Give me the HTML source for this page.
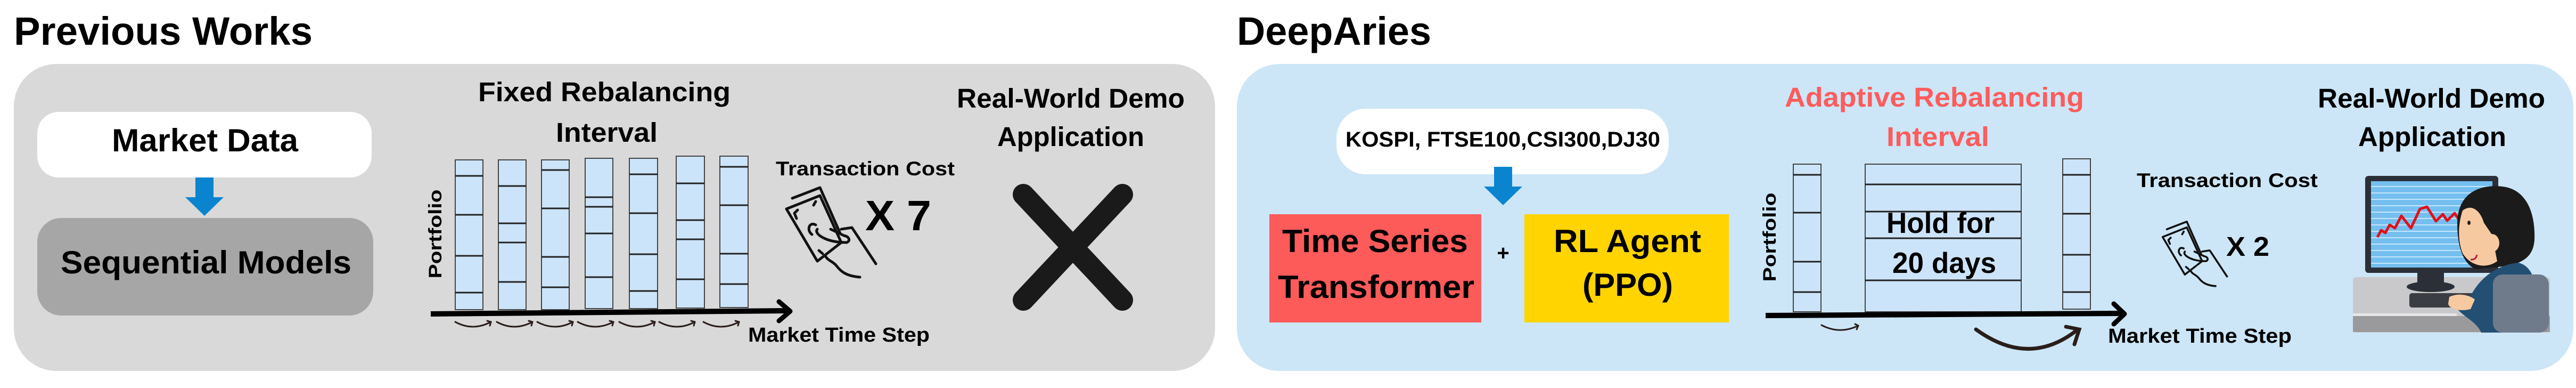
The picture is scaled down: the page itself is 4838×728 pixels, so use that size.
<!DOCTYPE html>
<html><head><meta charset="utf-8"><style>
html,body{margin:0;padding:0;background:#fff;}
svg{display:block;}
text{font-family:"Liberation Sans",Arial,sans-serif;font-weight:bold;}
</style></head><body>
<svg width="4838" height="728" viewBox="0 0 4838 728" xmlns="http://www.w3.org/2000/svg">
<defs>
<g id="money" fill="none" stroke="#111" stroke-width="5" stroke-linecap="round" stroke-linejoin="round">
  <path d="M48,42 L100,22 L138,108"/>
  <path d="M37,62 L100,37 L140,125 L95,160 Z"/>
  <path d="M52,70 L58,64 M52,70 L56,80"/>
  <path d="M92,48 L88,55"/>
  <path d="M98,140 L105,146"/>
  <path d="M92,92 C80,85 74,102 85,110"/>
  <path d="M95,100 C88,108 110,125 150,125 C158,122 155,114 145,112 L120,100"/>
  <path d="M140,100 L160,97 L205,165"/>
  <path d="M110,150 C115,160 125,160 132,170 C140,180 150,188 175,190"/>
</g>
</defs>

<!-- LEFT PANEL -->
<text x="26" y="84" font-size="74" textLength="561" lengthAdjust="spacingAndGlyphs">Previous Works</text>
<rect x="26" y="120" width="2256" height="576" rx="80" fill="#d9d9d9"/>

<rect x="70" y="210" width="628" height="123" rx="40" fill="#fff"/>
<text x="210" y="284" font-size="60" textLength="350" lengthAdjust="spacingAndGlyphs">Market Data</text>
<rect x="367" y="333" width="34" height="38" fill="#0b84d0"/>
<polygon points="348,370 420,370 384,405" fill="#0b84d0"/>
<rect x="70" y="409" width="631" height="183" rx="45" fill="#a6a6a6"/>
<text x="114" y="513" font-size="60" textLength="546" lengthAdjust="spacingAndGlyphs">Sequential Models</text>

<text x="898" y="190" font-size="51" textLength="474" lengthAdjust="spacingAndGlyphs">Fixed Rebalancing</text>
<text x="1044" y="266" font-size="51" textLength="191" lengthAdjust="spacingAndGlyphs">Interval</text>

<text transform="translate(820,439) rotate(-90)" font-size="34" text-anchor="middle" dominant-baseline="middle" textLength="167" lengthAdjust="spacingAndGlyphs">Portfolio</text>

<g fill="#cce4f9" stroke="#444" stroke-width="2">
<rect x="855" y="300" width="52" height="281"/>
<rect x="936" y="300" width="52" height="281"/>
<rect x="1017" y="300" width="52" height="281"/>
<rect x="1099" y="297" width="52" height="282"/>
<rect x="1182" y="297" width="53" height="282"/>
<rect x="1270" y="293" width="53" height="285"/>
<rect x="1352" y="293" width="53" height="284"/>
</g>
<g stroke="#222" stroke-width="3">
<path d="M855,330H907M855,403H907M855,480H907M855,549H907"/>
<path d="M936,349H988M936,419H988M936,455H988M936,529H988"/>
<path d="M1017,319H1069M1017,391H1069M1017,482H1069M1017,539H1069"/>
<path d="M1099,370H1151M1099,388H1151M1099,438H1151M1099,520H1151"/>
<path d="M1182,327H1235M1182,400H1235M1182,477H1235M1182,546H1235"/>
<path d="M1270,344H1323M1270,413H1323M1270,449H1323M1270,524H1323"/>
<path d="M1352,313H1405M1352,385H1405M1352,476H1405M1352,533H1405"/>
</g>
<path d="M809,589 L1480,583" stroke="#000" stroke-width="10"/>
<path d="M1463,566 L1484,584 L1463,602" fill="none" stroke="#000" stroke-width="9" stroke-linecap="round" stroke-linejoin="round"/>
<g fill="none" stroke="#2a1e1a" stroke-width="3" stroke-linecap="round">
<path d="M855,604 Q888,622 922,604 M915,602 L922,604 L920,611"/>
<path d="M933,604 Q966,622 1000,604 M993,602 L1000,604 L998,611"/>
<path d="M1009,604 Q1042,622 1076,604 M1069,602 L1076,604 L1074,611"/>
<path d="M1085,604 Q1118,622 1152,604 M1145,602 L1152,604 L1150,611"/>
<path d="M1163,604 Q1196,622 1230,604 M1223,602 L1230,604 L1228,611"/>
<path d="M1238,604 Q1271,622 1305,604 M1298,602 L1305,604 L1303,611"/>
<path d="M1321,604 Q1354,622 1388,604 M1381,602 L1388,604 L1386,611"/>
</g>
<text x="1405" y="641" font-size="38" textLength="341" lengthAdjust="spacingAndGlyphs">Market Time Step</text>

<text x="1457" y="329" font-size="37" textLength="336" lengthAdjust="spacingAndGlyphs">Transaction Cost</text>
<use href="#money" transform="translate(1440,330)"/>
<text x="1625" y="432" font-size="80" textLength="124" lengthAdjust="spacingAndGlyphs">X 7</text>

<text x="1797" y="202" font-size="51" textLength="428" lengthAdjust="spacingAndGlyphs">Real-World Demo</text>
<text x="1873" y="274" font-size="51" textLength="276" lengthAdjust="spacingAndGlyphs">Application</text>
<g stroke="#1a1a1a" stroke-width="40" stroke-linecap="round">
<path d="M1922,365 L2108,563"/>
<path d="M2108,365 L1922,563"/>
</g>

<!-- RIGHT PANEL -->
<text x="2323" y="84" font-size="74" textLength="365" lengthAdjust="spacingAndGlyphs">DeepAries</text>
<rect x="2323" y="120" width="2510" height="576" rx="80" fill="#cce6f7"/>

<rect x="2510" y="204" width="624" height="123" rx="55" fill="#fff"/>
<text x="2527" y="275" font-size="40" textLength="591" lengthAdjust="spacingAndGlyphs">KOSPI, FTSE100,CSI300,DJ30</text>
<rect x="2806" y="313" width="34" height="38" fill="#0b84d0"/>
<polygon points="2787,350 2859,350 2823,385" fill="#0b84d0"/>

<rect x="2384" y="402" width="398" height="203" fill="#fd5a5a"/>
<text x="2408" y="473" font-size="60" textLength="349" lengthAdjust="spacingAndGlyphs">Time Series</text>
<text x="2400" y="559" font-size="60" textLength="369" lengthAdjust="spacingAndGlyphs">Transformer</text>
<text x="2823" y="488" font-size="40" text-anchor="middle">+</text>
<rect x="2863" y="402" width="384" height="203" fill="#ffd400"/>
<text x="2918" y="473" font-size="60" textLength="277" lengthAdjust="spacingAndGlyphs">RL Agent</text>
<text x="2972" y="555" font-size="60" textLength="170" lengthAdjust="spacingAndGlyphs">(PPO)</text>

<text x="3352" y="200" font-size="51" fill="#fe5b5b" textLength="562" lengthAdjust="spacingAndGlyphs">Adaptive Rebalancing</text>
<text x="3543" y="274" font-size="51" fill="#fe5b5b" textLength="193" lengthAdjust="spacingAndGlyphs">Interval</text>

<text transform="translate(3326,445) rotate(-90)" font-size="34" text-anchor="middle" dominant-baseline="middle" textLength="167" lengthAdjust="spacingAndGlyphs">Portfolio</text>
<g fill="#cce4f9" stroke="#444" stroke-width="2">
<rect x="3368" y="308" width="52" height="277"/>
<rect x="3503" y="308" width="293" height="277"/>
<rect x="3874" y="298" width="52" height="282"/>
</g>
<g stroke="#222" stroke-width="3">
<path d="M3368,328H3420M3368,399H3420M3368,491H3420M3368,548H3420"/>
<path d="M3503,346H3796M3503,397H3796M3503,447H3796M3503,526H3796"/>
<path d="M3874,328H3926M3874,401H3926M3874,478H3926M3874,548H3926"/>
</g>
<text x="3543" y="437" font-size="55" textLength="203" lengthAdjust="spacingAndGlyphs">Hold for</text>
<text x="3554" y="512" font-size="55" textLength="195" lengthAdjust="spacingAndGlyphs">20 days</text>
<path d="M3316,592 L3985,588" stroke="#000" stroke-width="10"/>
<path d="M3970,570 L3990,589 L3970,608" fill="none" stroke="#000" stroke-width="9" stroke-linecap="round" stroke-linejoin="round"/>
<g fill="none" stroke="#2a1e1a" stroke-linecap="round">
<path d="M3421,610 Q3455,628 3490,611 M3484,608 L3490,611 L3487,618" stroke-width="3"/>
<path d="M3711,618 Q3810,690 3900,620" stroke-width="7"/>
<path d="M3880,613 L3905,618 L3896,646" stroke-width="7"/>
</g>
<text x="3959" y="643" font-size="38" textLength="345" lengthAdjust="spacingAndGlyphs">Market Time Step</text>

<text x="4013" y="351" font-size="37" textLength="340" lengthAdjust="spacingAndGlyphs">Transaction Cost</text>
<use href="#money" transform="translate(4035,400) scale(0.72)"/>
<text x="4181" y="480" font-size="51" textLength="81" lengthAdjust="spacingAndGlyphs">X 2</text>

<text x="4353" y="202" font-size="51" textLength="427" lengthAdjust="spacingAndGlyphs">Real-World Demo</text>
<text x="4429" y="274" font-size="51" textLength="278" lengthAdjust="spacingAndGlyphs">Application</text>

<!-- person illustration -->
<g>
<rect x="4419" y="520" width="370" height="104" rx="6" fill="#c9c9cb"/>
<rect x="4419" y="593" width="370" height="30" fill="#9a9a9c"/>
<rect x="4419" y="588" width="195" height="5" fill="#e6e6e6"/>
<rect x="4442" y="330" width="250" height="182" rx="6" fill="#2b3038"/>
<rect x="4453" y="340" width="228" height="162" fill="#74bff0"/>
<g stroke="#c5e6fa" stroke-width="2">
<path d="M4453,350H4681M4453,362H4681M4453,374H4681M4453,386H4681M4453,398H4681M4453,410H4681M4453,422H4681M4453,434H4681M4453,446H4681M4453,458H4681M4453,470H4681M4453,482H4681M4453,494H4681"/>
</g>
<path d="M4465,445 L4472,432 L4480,437 L4488,422 L4498,428 L4510,405 L4528,428 L4545,392 L4558,388 L4575,415 L4588,402 L4596,414 L4610,400 L4620,415" fill="none" stroke="#e0101a" stroke-width="5" stroke-linejoin="round"/>
<rect x="4540" y="508" width="50" height="28" fill="#2b3038"/>
<ellipse cx="4565" cy="538" rx="45" ry="10" fill="#2b3038"/>
<rect x="4525" y="550" width="125" height="27" rx="5" fill="#3a3d44"/>
<path d="M4615,420 C4615,360 4660,345 4700,350 C4745,355 4762,400 4760,450 C4758,480 4740,495 4700,500 L4650,505 C4625,495 4615,460 4615,420 Z" fill="#1b1b1b"/>
<path d="M4625,395 C4645,380 4660,400 4665,418 L4680,440 L4690,490 C4670,505 4640,500 4625,475 C4617,455 4615,425 4625,395 Z" fill="#f7c9a1"/>
<ellipse cx="4680" cy="456" rx="14" ry="17" fill="#f7c9a1"/>
<ellipse cx="4637" cy="418" rx="3" ry="4" fill="#222"/>
<path d="M4640,487 Q4650,488 4652,478" fill="none" stroke="#b02040" stroke-width="3"/>
<path d="M4630,580 C4650,515 4700,495 4730,493 C4760,500 4770,540 4765,624 L4660,624 C4650,600 4615,590 4610,570 Z" fill="#234f72"/>
<path d="M4600,557 C4620,548 4640,555 4648,562 L4640,580 C4620,585 4600,580 4598,570 Z" fill="#f7c9a1"/>
<rect x="4682" y="515" width="105" height="109" rx="18" fill="#6f7b8b"/>
</g>
</svg>
</body></html>
